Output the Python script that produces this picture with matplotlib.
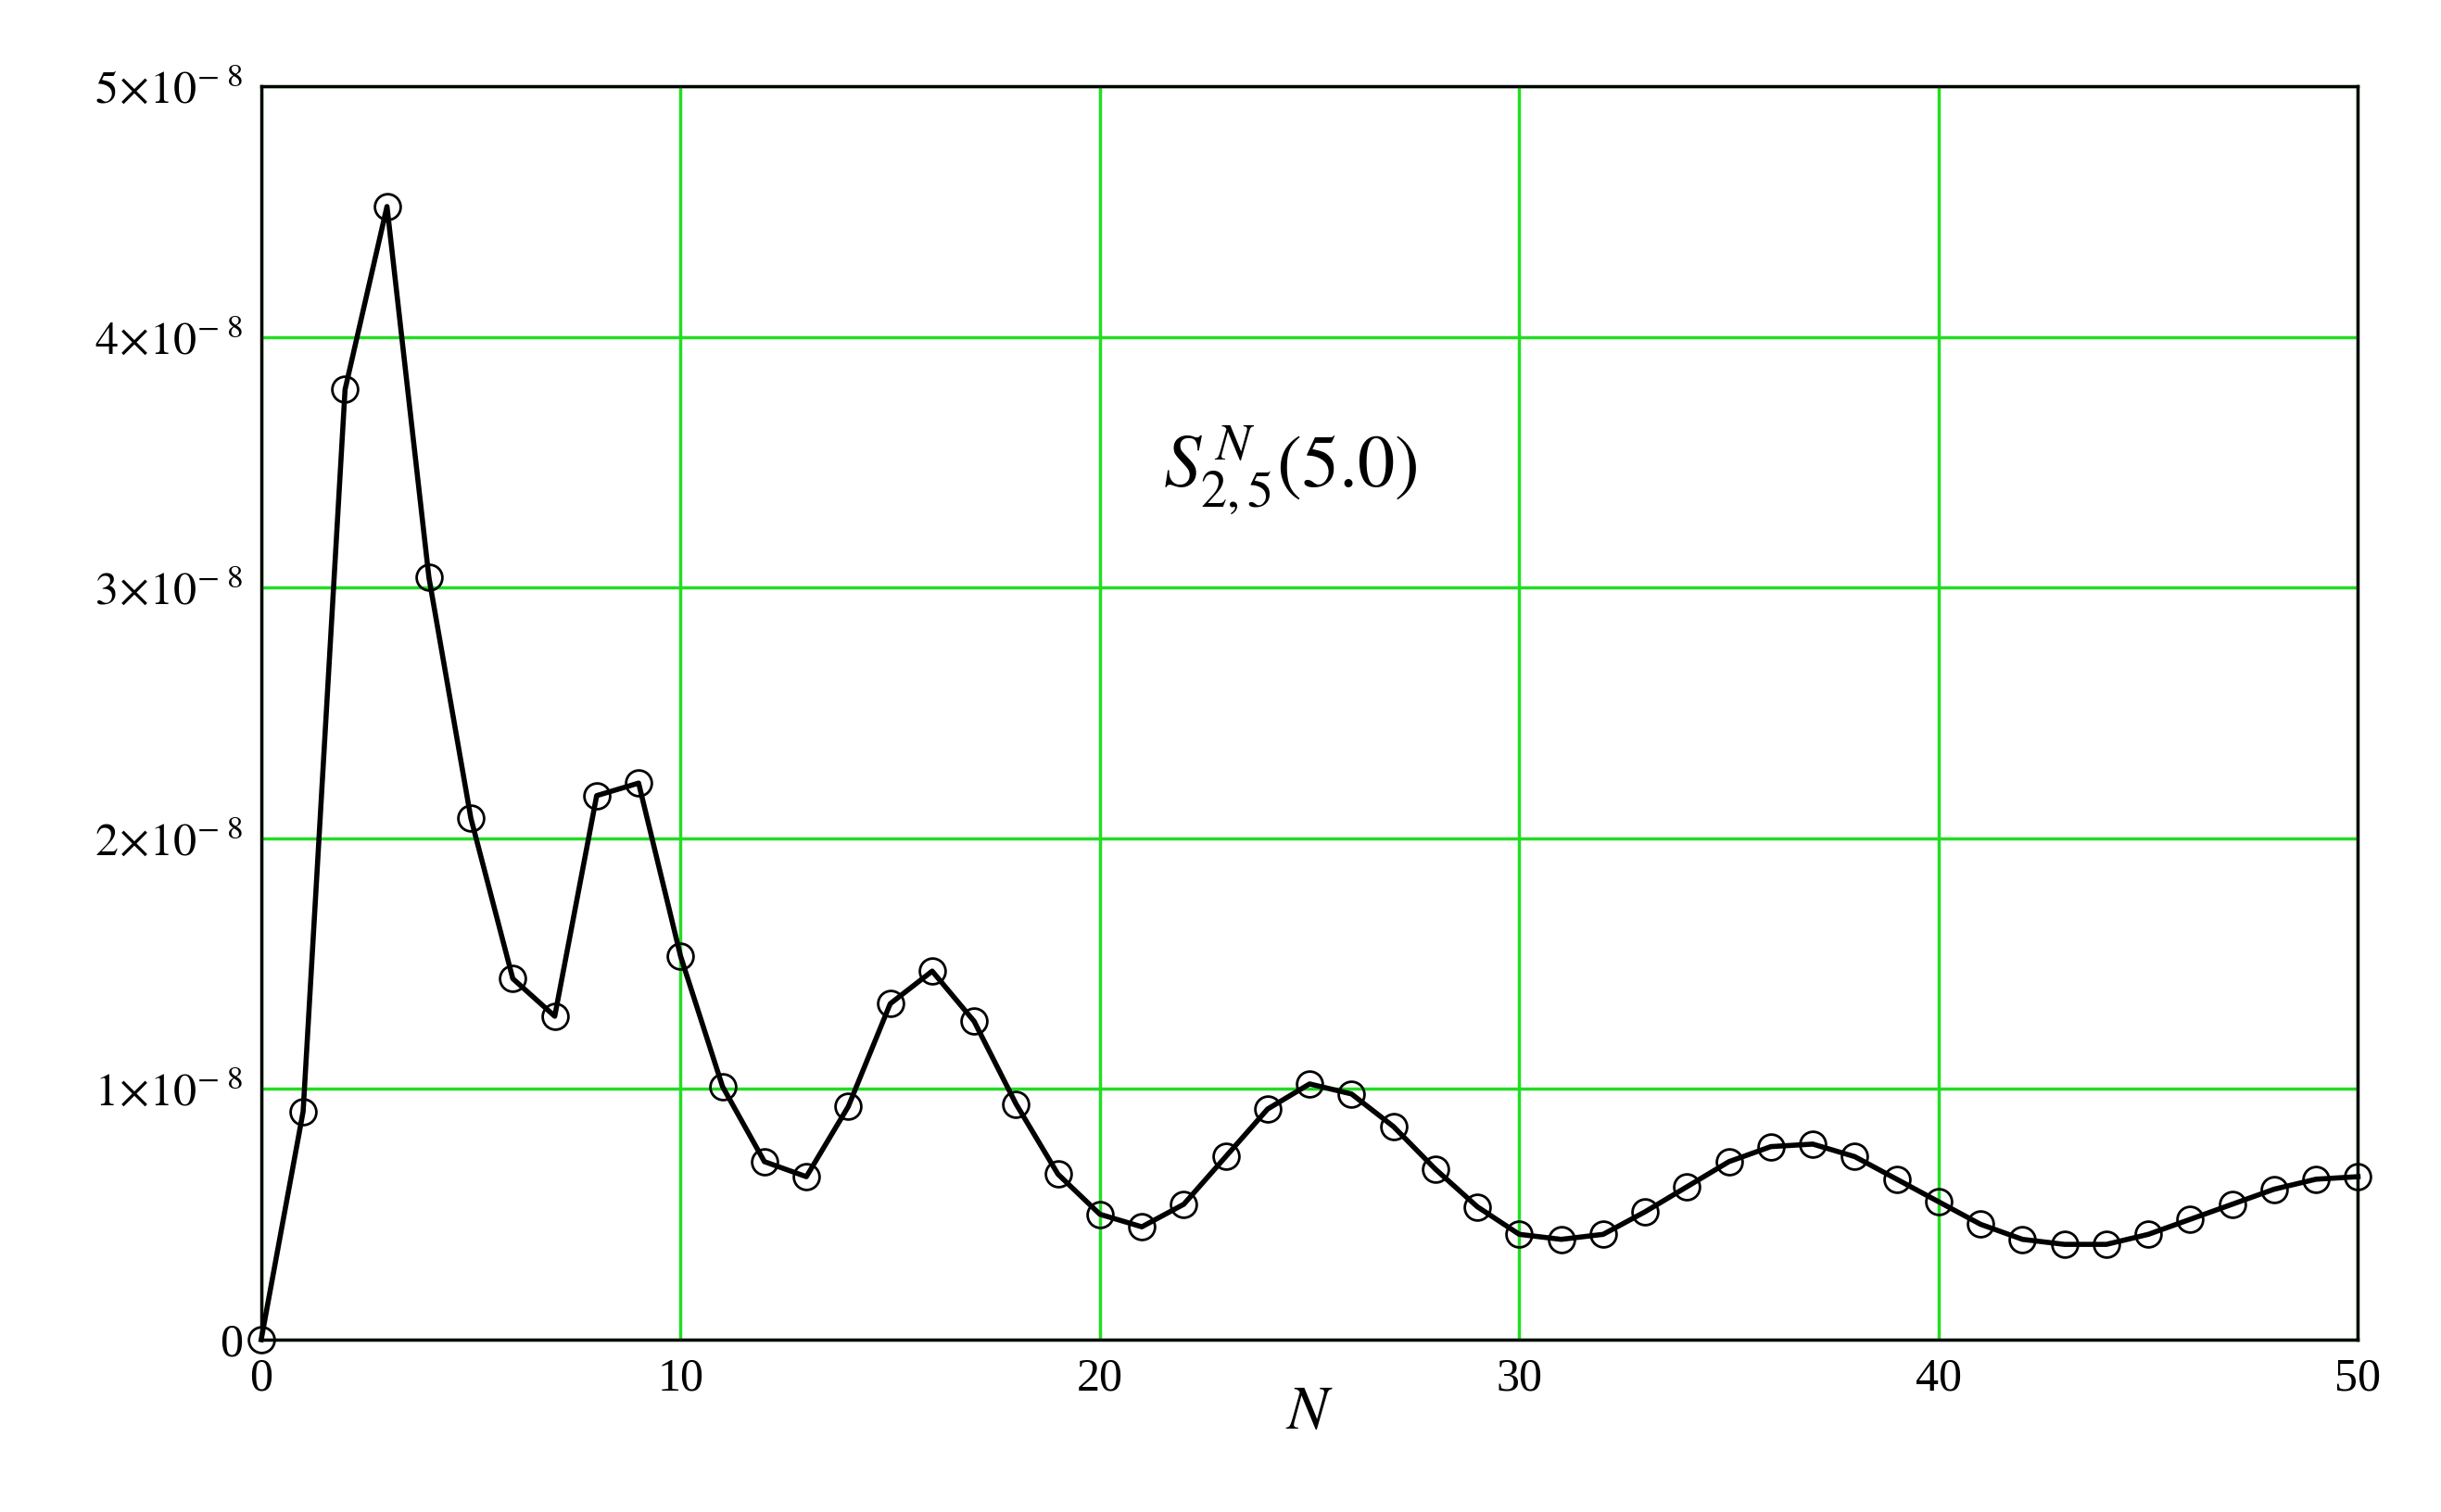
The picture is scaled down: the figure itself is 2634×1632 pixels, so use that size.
import numpy as np
import matplotlib.pyplot as plt

plt.rcParams['mathtext.fontset'] = 'stix'
plt.rcParams['font.family'] = ['Liberation Serif', 'DejaVu Serif']

# S values in units of 1e-8, N = 0..50
n_values = np.arange(0, 51)
s_values = [0.0, 0.91, 3.79, 4.52, 3.04, 2.08, 1.44, 1.29, 2.17, 2.22,
            1.53, 1.01, 0.71, 0.65, 0.93, 1.34, 1.47, 1.27, 0.94, 0.66,
            0.50, 0.45, 0.54, 0.73, 0.92, 1.02, 0.98, 0.85, 0.68, 0.53,
            0.42, 0.40, 0.42, 0.51, 0.61, 0.71, 0.77, 0.78, 0.73, 0.64,
            0.55, 0.46, 0.40, 0.38, 0.38, 0.42, 0.48, 0.54, 0.60, 0.64,
            0.65]
y_ticks = [0, 1, 2, 3, 4, 5]
x_ticks = [0, 10, 20, 30, 40, 50]

fig = plt.figure(figsize=(26.34, 16.32), dpi=100)
ax = fig.add_axes([0.107, 0.114, 0.859, 0.829])

ax.plot(n_values, np.array(s_values) * 1e-8, color='black', lw=4,
        marker='o', ms=20, mfc='none', mec='black', mew=2, clip_on=False)

ax.set_xlim(0, 50)
ax.set_ylim(0, 5e-8)
ax.set_xticks(x_ticks)
ax.set_yticks([v * 1e-8 for v in y_ticks])
ax.set_xticklabels([str(v) for v in x_ticks])
ax.set_yticklabels(['0'] + [r'$%d\!\times\!10^{-\ 8}$' % v for v in y_ticks[1:]])
ax.tick_params(labelsize=36, length=0, pad=14)
ax.grid(True, color='#22dd22', lw=2.5)
for sp in ax.spines.values():
    sp.set_linewidth(2.5)

ax.set_xlabel(r'$N$', fontsize=48, labelpad=-12)
ax.text(21.5, 3.4e-8, r'$S^{\,N}_{2,5}(5.0)$', fontsize=58)

fig.savefig('out.png', dpi=100)
